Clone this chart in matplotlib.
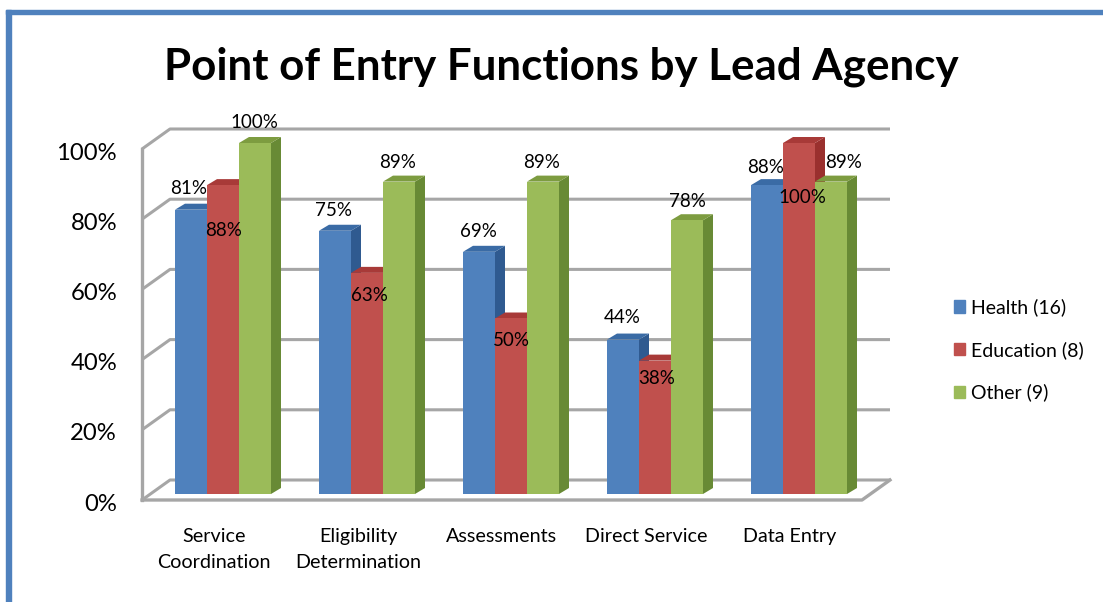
import matplotlib
matplotlib.use("Agg")
import matplotlib.pyplot as plt
from matplotlib.patches import Polygon, Rectangle
from matplotlib.transforms import ScaledTranslation

plt.rcParams['font.family'] = ['Lato', 'DejaVu Sans']

title = "Point of Entry Functions by Lead Agency"
categories = ["Service\nCoordination", "Eligibility\nDetermination", "Assessments", "Direct Service", "Data Entry"]
series_names = ["Health (16)", "Education (8)", "Other (9)"]
health = [81, 75, 69, 44, 88]
education = [88, 63, 50, 38, 100]
other = [100, 89, 89, 78, 89]
y_ticks = [0, 20, 40, 60, 80, 100]

# layout, all in pixels of the 1103x602 picture
W, H = 1103, 602
LEFT, RIGHT, Y0, Y100 = 142, 862, 494, 143
PX_X = (RIGHT - LEFT) / 5
PX_Y = (Y0 - Y100) / 100
Y_MIN = -3
bar_w = 32 / PX_X
shift = 9 / PX_X
dx = 10 / PX_X
dy = 6 / PX_Y
wall_dx = 28 / PX_X
front_off = -6 / PX_Y
back_off = 14 / PX_Y

front = ["#4F81BD", "#C0504D", "#9BBB59"]
side = ["#2F5A90", "#9A302E", "#688A35"]
top = ["#3A6BA5", "#A83A38", "#7D9C40"]
GRID = "#A6A6A6"

# label nudges from the top of each bar (x, y in px, y downwards)
nudges = [
    [(-2, -21), (-2, -20), (-1, -20), (-1, -22), (-1, -18)],
    [(1, 45), (2, 23), (0, 22), (2, 18), (3, 55)],
    [(-1, -20), (-1, -19), (-1, -19), (0, -19), (13, -19)],
]

fig = plt.figure(figsize=(W / 100, H / 100), dpi=100)
ax_bottom = Y0 - Y_MIN * PX_Y
ax = fig.add_axes([LEFT / W, 1 - ax_bottom / H, (RIGHT - LEFT) / W, (ax_bottom - Y100) / H])
for s in ax.spines.values():
    s.set_visible(False)

# walls
for v in y_ticks:
    ax.plot([-0.5, -0.5 + wall_dx, 4.5 + wall_dx], [v + front_off, v + back_off, v + back_off],
            color=GRID, lw=2.2, clip_on=False, zorder=1, solid_capstyle="butt")
ax.plot([-0.5, -0.5], [front_off, 100 + front_off], color=GRID, lw=2.4, clip_on=False, zorder=1)
ax.plot([-0.5, 4.5, 4.5 + wall_dx], [front_off, front_off, back_off],
        color=GRID, lw=2.4, clip_on=False, zorder=1)

# bars with fake 3d faces
z = 2
for i in range(5):
    for j, vals in enumerate([health, education, other]):
        x0 = i + shift + (j - 1.5) * bar_w
        x1 = x0 + bar_w
        v = vals[i]
        ax.add_patch(Polygon([(x1, 0), (x1 + dx, dy), (x1 + dx, v + dy), (x1, v)],
                             facecolor=side[j], edgecolor="none", zorder=z, clip_on=False))
        ax.add_patch(Polygon([(x0, v), (x0 + dx, v + dy), (x1 + dx, v + dy), (x1, v)],
                             facecolor=top[j], edgecolor="none", zorder=z, clip_on=False))
        ax.bar(x0, v, width=bar_w, align="edge", color=front[j], zorder=z + 0.5, clip_on=False)
        z += 1

# data labels on top of everything
for j, vals in enumerate([health, education, other]):
    for i, v in enumerate(vals):
        x = i + shift + (j - 1) * bar_w
        nx, ny = nudges[j][i]
        ax.annotate(f"{v}%", (x, v), xytext=(nx * 0.72, -ny * 0.72), textcoords="offset points",
                    ha="center", va="center", fontsize=13.5, color="black", zorder=100,
                    annotation_clip=False)

ax.set_xticks(range(5))
ax.set_xticklabels(categories, fontsize=14.2, linespacing=1.62)
ax.set_yticks([v + front_off for v in y_ticks])
ax.set_yticklabels([f"{v}%" for v in y_ticks], fontsize=17.2)
ax.tick_params(axis="x", length=0, pad=17)
ax.tick_params(axis="y", length=0, pad=18)
# set_yticks widens the view, so the limits go last
ax.set_xlim(-0.5, 4.5)
ax.set_ylim(Y_MIN, 100)
for lab in ax.get_yticklabels():
    lab.set_transform(lab.get_transform() + ScaledTranslation(0, -1.5 / 72, fig.dpi_scale_trans))

legend_handles = [Rectangle((0, 0), 1, 1, color=c) for c in front]
fig.legend(legend_handles, series_names, loc="center left", bbox_to_anchor=(954 / W, 1 - 350 / H),
           frameon=False, fontsize=14, handlelength=0.58, handleheight=0.58, handletextpad=0.3,
           labelspacing=1.27, borderpad=0, borderaxespad=0)

fig.text(561 / W, 1 - 67 / H, title, fontsize=31.6, fontweight="bold", ha="center", va="center")

# blue frame of the slide
fig.add_artist(Rectangle((6 / W, 0), 5 / W, 1 - 10 / H, color="#4F81BD", transform=fig.transFigure))
fig.add_artist(Rectangle((6 / W, 1 - 14 / H), (W - 6) / W, 4 / H, color="#4F81BD", transform=fig.transFigure))

fig.savefig("out.png", dpi=100)
